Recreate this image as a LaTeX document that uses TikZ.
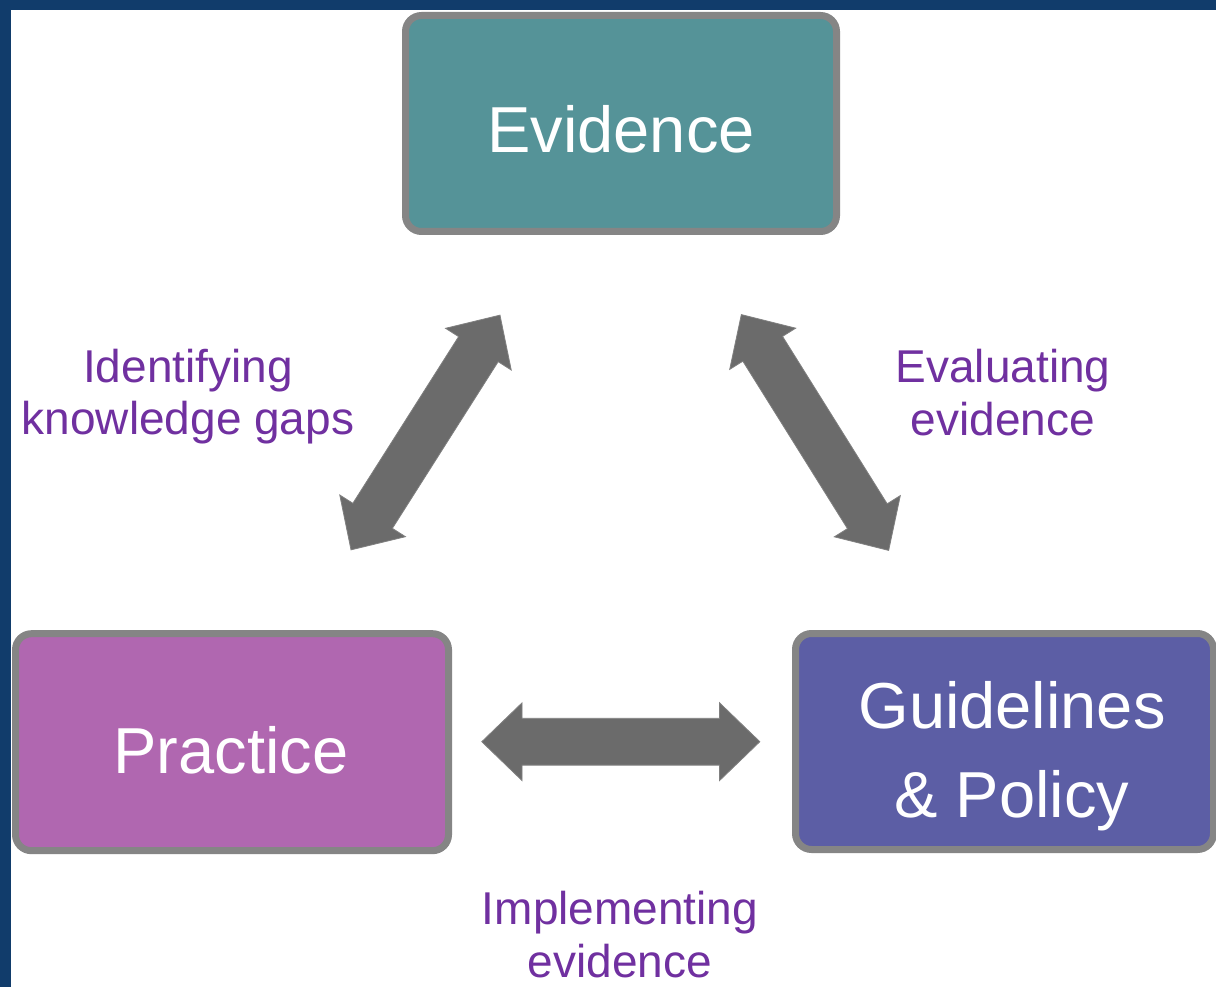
\documentclass[tikz,border=0pt]{standalone}
\usepackage{fontspec}
\setmainfont{Liberation Sans}
\usetikzlibrary{shapes.arrows}
\definecolor{frameblue}{RGB}{17,60,107}
\definecolor{evidfill}{RGB}{85,147,152}
\definecolor{pracfill}{RGB}{176,103,176}
\definecolor{guidfill}{RGB}{92,94,165}
\definecolor{boxedge}{RGB}{133,133,133}
\definecolor{arrowfill}{RGB}{107,107,107}
\definecolor{arrowedge}{RGB}{128,128,128}
\definecolor{labpurple}{RGB}{112,48,160}
\tikzset{
  bigbox/.style={draw=boxedge, line width=7pt, rounded corners=16pt, inner sep=0pt},
  boxtext/.style={text=white, inner sep=0pt, anchor=base, font=\fontsize{65}{89}\selectfont, align=center},
  linktext/.style={text=labpurple, inner sep=0pt, anchor=base, font=\fontsize{46}{52.5}\selectfont, align=center},
  blockarrow/.style={double arrow, fill=arrowfill, draw=arrowedge, line width=0.8pt,
    minimum height=278pt, inner xsep=0pt, inner ysep=23pt, double arrow head extend=15.5pt,
    double arrow tip angle=88}
}
\begin{document}
\begin{tikzpicture}[x=1pt,y=-1pt]
\useasboundingbox (0,0) rectangle (1216,987);
\fill[white] (0,0) rectangle (1216,987);
% frame
\fill[frameblue] (0,0) rectangle (1216,10.5);
\fill[frameblue] (0,0) rectangle (11,987);
% boxes
\node[bigbox, fill=evidfill, minimum width=431pt, minimum height=216pt] (evidence) at (621,123.5) {};
\node[bigbox, fill=pracfill, minimum width=433pt, minimum height=217pt] (practice) at (232,742.2) {};
\node[bigbox, fill=guidfill, minimum width=418pt, minimum height=216pt] (guidelines) at (1004.5,741.5) {};
% box texts
\node[boxtext] (evidenceT) at (621,152.7) {Evidence};
\node[boxtext] (practiceT) at (231,773.3) {Practice};
\node[boxtext] (guidelinesT) at (1012,817) {Guidelines\\\& Policy};
% arrows
\node[blockarrow, rotate=57.6] (arrowL) at (425.5,432.5) {};
\node[blockarrow, rotate=-58] (arrowR) at (815,432.5) {};
\node[blockarrow] (arrowB) at (620.8,741.7) {};
% labels
\node[linktext] (labL) at (188,434.5) {Identifying\\knowledge gaps};
\node[linktext] (labR) at (1003,435) {Evaluating\\evidence};
\node[linktext] (labB) at (620,977) {Implementing\\evidence};
\end{tikzpicture}
\end{document}
